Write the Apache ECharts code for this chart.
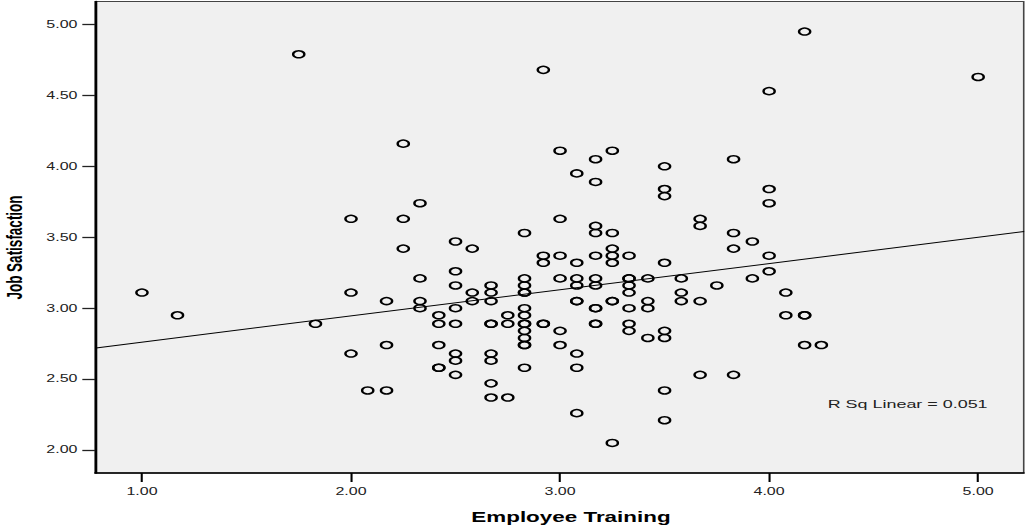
<!DOCTYPE html>
<html>
<head>
<meta charset="utf-8">
<title>Job Satisfaction by Employee Training</title>
<script src="https://cdn.jsdelivr.net/npm/echarts@6.0.0/dist/echarts.min.js"></script>
</head>
<body style="margin: 0; overflow: hidden; background: #fff">
<!-- the original SPSS export is stretched sideways, so the chart is drawn narrow and scaled in x -->
<div id="container" style="width: 640px; height: 529px; transform: scaleX(1.6015625); transform-origin: 0 0"></div>
<script>
// training score levels and the satisfaction scores found at each level
var trainingLevels = [1.00, 1.17, 1.75, 1.83, 2.00, 2.08, 2.17, 2.25, 2.33, 2.42, 2.50, 2.58, 2.67, 2.75,
  2.83, 2.92, 3.00, 3.08, 3.17, 3.25, 3.33, 3.42, 3.50, 3.58, 3.67, 3.75, 3.83, 3.92, 4.00, 4.08, 4.17, 4.25, 5.00];
var satisfactionByLevel = [
  [3.11],
  [2.95],
  [4.79],
  [2.89],
  [3.63, 3.11, 2.68],
  [2.42],
  [3.05, 2.74, 2.42],
  [4.16, 3.63, 3.42],
  [3.74, 3.21, 3.05, 3.00],
  [2.95, 2.89, 2.74, 2.58, 2.58],
  [3.47, 3.26, 3.16, 3.00, 2.89, 2.68, 2.63, 2.53],
  [3.42, 3.11, 3.05],
  [3.16, 3.11, 3.05, 2.89, 2.89, 2.68, 2.63, 2.47, 2.37],
  [2.95, 2.89, 2.37],
  [3.53, 3.21, 3.16, 3.11, 3.11, 3.00, 2.95, 2.89, 2.89, 2.84, 2.79, 2.74, 2.74, 2.58],
  [4.68, 3.37, 3.32, 2.89, 2.89],
  [4.11, 3.63, 3.37, 3.21, 2.84, 2.74],
  [3.95, 3.32, 3.21, 3.16, 3.05, 3.05, 2.68, 2.58, 2.26],
  [4.05, 3.89, 3.58, 3.53, 3.37, 3.21, 3.16, 3.00, 3.00, 2.89, 2.89],
  [4.11, 3.53, 3.42, 3.37, 3.32, 3.05, 3.05, 2.05],
  [3.37, 3.21, 3.21, 3.16, 3.11, 3.00, 2.89, 2.84],
  [3.21, 3.05, 3.00, 2.79],
  [4.00, 3.84, 3.79, 3.32, 2.84, 2.79, 2.42, 2.21],
  [3.21, 3.11, 3.05],
  [3.63, 3.58, 3.05, 2.53],
  [3.16],
  [4.05, 3.53, 3.42, 2.53],
  [3.47, 3.21],
  [4.53, 3.84, 3.74, 3.37, 3.26],
  [3.11, 2.95],
  [4.95, 2.95, 2.95, 2.74],
  [2.74],
  [4.63]
];
// fit line ends, read where it meets the frame
var fitLineX = [0.78, 5.22];
var fitLineY = [2.72, 3.54];
var xTicks = [1, 2, 3, 4, 5];
var yTicks = [2, 2.5, 3, 3.5, 4, 4.5, 5];
var rSquaredLabel = 'R Sq Linear = 0.051';

var points = [];
trainingLevels.forEach(function (x, i) {
  satisfactionByLevel[i].forEach(function (y) {
    points.push([x, y]);
  });
});
var fitLine = fitLineX.map(function (x, i) { return [x, fitLineY[i]]; });

var fontFamily = '"Liberation Sans", Arial, sans-serif';
var fmt = function (v) { return v.toFixed(2); };

var dom = document.getElementById('container');
var myChart = echarts.init(dom, null, { renderer: 'svg' });

var option = {
  animation: false,
  textStyle: { fontFamily: fontFamily },
  grid: {
    left: 59.4, right: 0.8, top: 1.5, bottom: 56,
    show: true, backgroundColor: '#f0f0f0', borderColor: '#444', borderWidth: 1
  },
  xAxis: {
    type: 'value', min: 0.776, max: 5.218,
    axisLine: { show: true, onZero: false, lineStyle: { color: '#000', width: 1.5 } },
    axisTick: { show: true, length: 9, customValues: xTicks, lineStyle: { color: '#000', width: 1.3 } },
    axisLabel: { customValues: xTicks, margin: 14, fontSize: 10, color: '#222', formatter: fmt },
    splitLine: { show: false }
  },
  yAxis: {
    type: 'value', min: 1.838, max: 5.162,
    axisLine: { show: true, onZero: false, lineStyle: { color: '#000', width: 1.5 } },
    axisTick: { show: true, length: 8, customValues: yTicks, lineStyle: { color: '#222', width: 1.3 } },
    axisLabel: { customValues: yTicks, margin: 11, fontSize: 10, color: '#222', formatter: fmt },
    splitLine: { show: false }
  },
  series: [
    {
      type: 'scatter',
      data: points,
      symbol: 'circle',
      symbolSize: 7,
      itemStyle: { color: 'transparent', borderColor: '#000', borderWidth: 1.5, opacity: 1 },
      emphasis: { disabled: true }
    },
    {
      type: 'line',
      data: fitLine,
      symbol: 'none',
      lineStyle: { color: '#000', width: 1 },
      emphasis: { disabled: true }
    }
  ],
  graphic: [
    {
      type: 'text', x: 516.8, y: 404.3,
      style: { text: rSquaredLabel, fontFamily: fontFamily, fontSize: 11.2, fill: '#222',
        align: 'left', textAlign: 'left', verticalAlign: 'middle', textVerticalAlign: 'middle' }
    },
    {
      type: 'text', x: 356.5, y: 517,
      style: { text: 'Employee Training', fontFamily: fontFamily, fontSize: 14, fontWeight: 'bold', fill: '#000',
        align: 'center', textAlign: 'center', verticalAlign: 'middle', textVerticalAlign: 'middle' }
    },
    {
      type: 'text', x: 9.4, y: 247.5, rotation: Math.PI / 2,
      style: { text: 'Job Satisfaction', fontFamily: fontFamily, fontSize: 13.5, fontWeight: 'bold', fill: '#000',
        align: 'center', textAlign: 'center', verticalAlign: 'middle', textVerticalAlign: 'middle' }
    }
  ]
};

myChart.setOption(option);
</script>
</body>
</html>
